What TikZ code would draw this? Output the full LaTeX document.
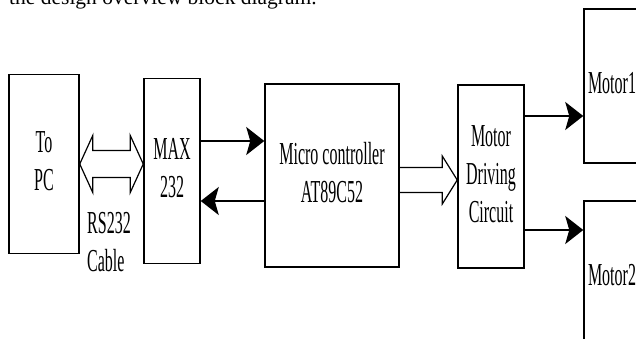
\documentclass[tikz,border=0pt]{standalone}
\usepackage{graphicx}
\usepackage{fontspec}
\setmainfont{Liberation Serif}
\usetikzlibrary{calc, arrows.meta}
\newcommand{\tallText}[2][c]{\scalebox{1}[2]{\begin{tabular}{@{}#1@{}}#2\end{tabular}}}

\begin{document}
\begin{tikzpicture}[x=1pt, y=-1pt,
                block/.style={draw, line width=1.5pt, inner sep=0pt, font=\fontsize{16}{19}\selectfont},
                flow/.style={line width=1.8pt, -{Stealth[length=18pt, width=28pt, inset=4pt]}},
                hollow/.style={line width=1.2pt, line join=miter}]
                \useasboundingbox (0,0) rectangle (636,338);
                \clip (0,0) rectangle (636,338);
                \node[anchor=base west, inner sep=0pt, font=\fontsize{21.5}{26}\selectfont] (caption) at (9,4) {the design overview block diagram.};
                \node[block, minimum width=70pt, minimum height=179pt] (pc) at (44,164) {\tallText{To\\PC}};
                \node[block, minimum width=56pt, minimum height=185pt] (max) at (172,171) {\tallText{MAX\\232}};
                \node[block, minimum width=134pt, minimum height=183pt] (mcu) at (332,175.5) {\tallText{Micro controller\\AT89C52}};
                \node[block, minimum width=66pt, minimum height=183pt] (drv) at (491,176.5) {\tallText{Motor\\Driving\\Circuit}};
                \node[block, minimum width=56pt, minimum height=154pt] (motorA) at (612,86) {\tallText{Motor1}};
                \node[block, minimum width=56pt, minimum height=154pt] (motorB) at (612,278) {\tallText{Motor2}};
                \node[anchor=north west, inner sep=0pt, font=\fontsize{16}{19}\selectfont] (cable) at (87,207) {\tallText[l]{RS232\\Cable}};
                \coordinate (cL) at (pc.east);
                \coordinate (cR) at (max.west |- cL);
                \draw[hollow] (cL) -- ++(13,-28.5) -- ++(0,15) -- ($(cR)+(-13,-13.5)$) -- ++(0,-15) -- (cR)
                    -- ++(-13,28.5) -- ++(0,-15) -- ($(cL)+(13,13.5)$) -- ++(0,15) -- cycle;
                \coordinate (tx) at ($(max.east)+(0,-30)$);
                \coordinate (rx) at ($(max.east)+(0,30)$);
                \draw[flow] (tx) -- (tx -| mcu.west);
                \draw[flow] (rx -| mcu.west) -- (rx);
                \coordinate (bus) at ($(mcu.east)+(0,4.5)$);
                \coordinate (busEnd) at (drv.west |- bus);
                \draw[hollow] ($(bus)+(0,-12.5)$) -- ($(busEnd)+(-15,-12.5)$) -- ++(0,-11.5) -- (busEnd)
                    -- ++(-15,24) -- ++(0,-11.5) -- ($(bus)+(0,12.5)$);
                \coordinate (outA) at ($(drv.east)+(0,-60.5)$);
                \coordinate (outB) at ($(drv.east)+(0,53.5)$);
                \draw[flow] (outA) -- (outA -| motorA.west);
                \draw[flow] (outB) -- (outB -| motorB.west);
            \end{tikzpicture}
\end{document}
